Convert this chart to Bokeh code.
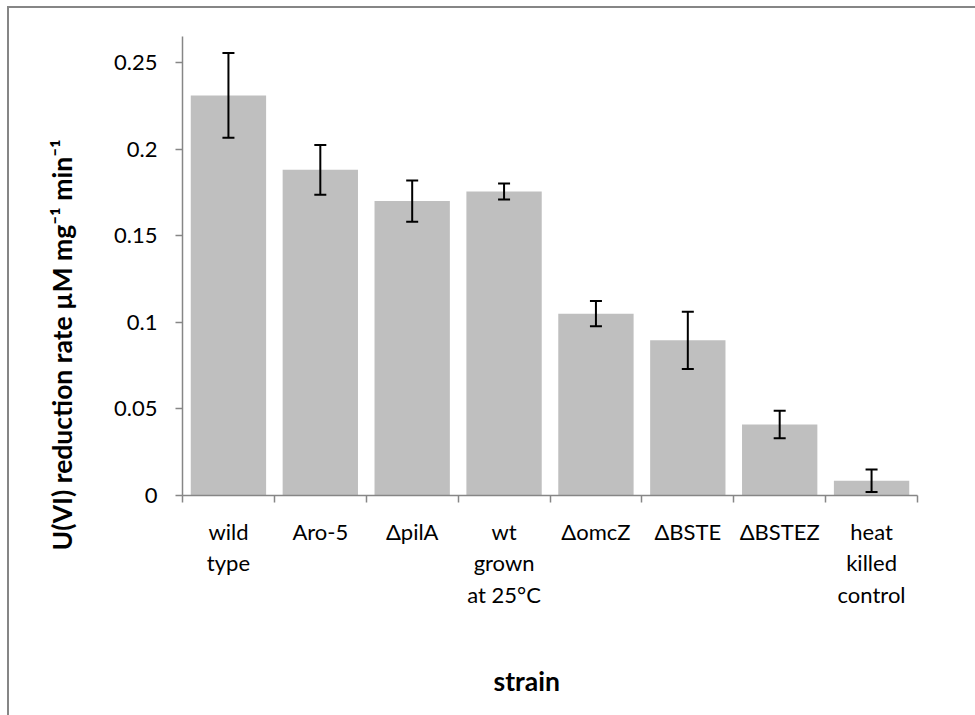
from bokeh.plotting import figure
from bokeh.models import (Range1d, FixedTicker, Whisker, TeeHead, ColumnDataSource,
                          Title, GlobalInlineStyleSheet)
from bokeh.embed import file_html
from bokeh.resources import INLINE

# ---- data ----
strains = ["wild\ntype", "Aro-5", "\u0394pilA", "wt\ngrown\nat 25\u00b0C",
           "\u0394omcZ", "\u0394BSTE", "\u0394BSTEZ", "heat\nkilled\ncontrol"]
rates = [0.231, 0.188, 0.170, 0.1755, 0.105, 0.0896, 0.041, 0.0085]
errors = [0.0245, 0.0144, 0.0119, 0.0046, 0.0073, 0.0165, 0.0079, 0.0065]
y_ticks = [0, 0.05, 0.1, 0.15, 0.2, 0.25]
y_tick_labels = ["0", "0.05", "0.1", "0.15", "0.2", "0.25"]
y_title = "U(VI) reduction rate \u00b5M mg\u207b\u00b9 min\u207b\u00b9"
x_title = "strain"

FONT = "Lato"
GRAY_AXIS = "#868686"

xpos = [i + 0.5 for i in range(len(strains))]
src = ColumnDataSource(dict(
    x=xpos, top=rates,
    upper=[r + e for r, e in zip(rates, errors)],
    lower=[r - e for r, e in zip(rates, errors)],
))

p = figure(frame_width=735, frame_height=459, output_backend="svg",
           toolbar_location=None,
           x_range=Range1d(0, len(strains)), y_range=Range1d(0, 0.265),
           min_border_left=182, min_border_right=58, min_border_top=36,
           min_border_bottom=220, background_fill_color="white",
           border_fill_color="white")
p.xgrid.visible = False
p.ygrid.visible = False
p.outline_line_color = None

# chart-area border: only its left and top edges fall inside the window
p.stylesheets = [GlobalInlineStyleSheet(css="""
html, body { margin: 0; overflow: hidden; }
body::before { content: ""; position: fixed; left: 7px; top: 6px;
  width: 2px; height: 2000px; background: #868686; pointer-events: none;
  z-index: 10000; }
body::after { content: ""; position: fixed; left: 7px; top: 6px;
  width: 2000px; height: 2px; background: #868686; pointer-events: none;
  z-index: 10000; }
""")]

p.vbar(x="x", top="top", width=0.82, source=src, fill_color="#BFBFBF",
       line_color=None)

w = Whisker(base="x", upper="upper", lower="lower", source=src,
            line_color="black", line_width=2, level="overlay",
            upper_head=TeeHead(size=12, line_color="black", line_width=2),
            lower_head=TeeHead(size=12, line_color="black", line_width=2))
p.add_layout(w)

# y axis
ya = p.yaxis[0]
ya.ticker = FixedTicker(ticks=y_ticks, minor_ticks=[])
ya.major_label_overrides = {t: l for t, l in zip(y_ticks, y_tick_labels)}
ya.axis_line_color = GRAY_AXIS
ya.axis_line_width = 1.5
ya.major_tick_line_color = GRAY_AXIS
ya.major_tick_line_width = 1.5
ya.major_tick_out = 7
ya.major_tick_in = 0
ya.minor_tick_line_color = None
ya.major_label_standoff = 18
ya.major_label_text_font = FONT
ya.major_label_text_font_size = "22px"
ya.major_label_text_color = "black"

# x axis
xa = p.xaxis[0]
xa.ticker = FixedTicker(ticks=xpos, minor_ticks=list(range(len(strains) + 1)))
xa.major_label_overrides = {x: s for x, s in zip(xpos, strains)}
xa.axis_line_color = GRAY_AXIS
xa.axis_line_width = 1.5
xa.major_tick_line_color = None
xa.major_tick_out = 0
xa.major_tick_in = 0
xa.minor_tick_line_color = GRAY_AXIS
xa.minor_tick_line_width = 1.5
xa.minor_tick_out = 7
xa.minor_tick_in = 0
xa.major_label_standoff = 15
xa.major_label_text_font = FONT
xa.major_label_text_font_size = "22px"
xa.major_label_text_color = "black"
xa.major_label_text_line_height = 1.17

# axis titles as side-panel titles
p.add_layout(Title(text=y_title, align="left", offset=-55, standoff=67,
                   text_font=FONT, text_font_style="bold",
                   text_font_size="26.5px", text_color="black"), "left")
p.add_layout(Title(text=x_title, align="left", offset=311, standoff=104,
                   text_font=FONT, text_font_style="bold",
                   text_font_size="26.5px", text_color="black"), "below")

open("out.html", "w").write(file_html(p, INLINE))
